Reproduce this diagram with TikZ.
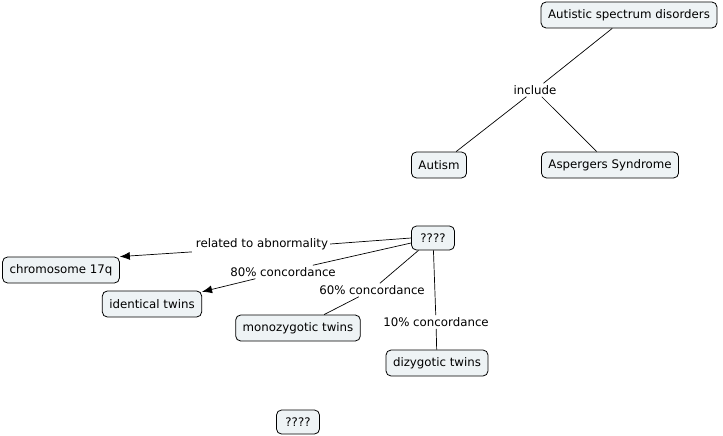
\documentclass[tikz,border=0pt]{standalone}
\usepackage{fontspec}
\setmainfont{DejaVu Sans}
\usetikzlibrary{arrows.meta}
\definecolor{boxfill}{HTML}{EEF3F5}
\tikzset{
  concept/.style={draw=black, line width=0.8pt, fill=boxfill, rounded corners=5pt,
    inner xsep=7pt, inner ysep=0pt, minimum height=26pt, font=\fontsize{11.8}{14}\selectfont},
  qbox/.style={concept, minimum height=24pt, minimum width=43pt},
  linklabel/.style={inner sep=2pt, font=\fontsize{11.8}{14}\selectfont},
  link/.style={line width=0.7pt},
  arrowlink/.style={line width=0.7pt, -{Latex[length=10pt,width=8pt]}}
}
\begin{document}
\begin{tikzpicture}[x=1pt,y=-1pt]
\useasboundingbox (0,0) rectangle (723,436);
% top map
\node[concept] (asd) at (629,15) {Autistic spectrum disorders};
\node[linklabel] (inc) at (535,90) {include};
\node[concept] (aut) at (439,165) {Autism};
\node[concept] (asp) at (610,165) {Aspergers Syndrome};
\draw[link] (asd) -- (inc);
\draw[link] (inc) -- (aut);
\draw[link] (inc) -- (asp);
% bottom map
\node[qbox] (q) at (433,238) {????};
\node[concept] (chr) at (61,270) {chromosome 17q};
\node[concept] (ide) at (152,304) {identical twins};
\node[concept] (mon) at (298,328) {monozygotic twins};
\node[concept] (diz) at (437,363) {dizygotic twins};
\node[qbox] (q2) at (298,422) {????};
\node[linklabel] (rel) at (262,244) {related to abnormality};
\node[linklabel] (c80) at (283,272) {80\% concordance};
\node[linklabel] (c60) at (372,290) {60\% concordance};
\node[linklabel] (c10) at (436,322) {10\% concordance};
\draw[link] (q.west) -- (rel.east);
\draw[arrowlink] (rel.south west) ++(-2,0) coordinate (r1) (r1) -- (chr.north east);
\draw[link] (q.west |- 0,243) coordinate (q80) (q80) -- (c80);
\draw[arrowlink] (c80) -- (ide);
\draw[link] (q) -- (c60);
\draw[link] (c60) -- (mon);
\draw[link] (q) -- (c10);
\draw[link] (c10) -- (diz);
\end{tikzpicture}
\end{document}
